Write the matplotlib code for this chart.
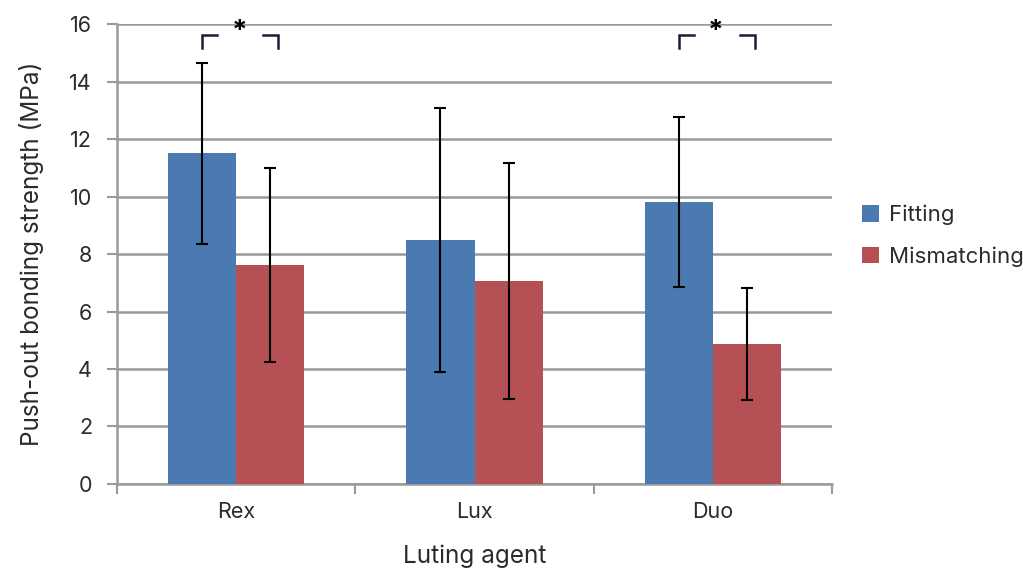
import matplotlib
matplotlib.use("Agg")
import matplotlib.pyplot as plt
import numpy as np

plt.rcParams['font.family'] = ['Inter', 'DejaVu Sans']

# data
agents = ["Rex", "Lux", "Duo"]
fitting = [11.51, 8.49, 9.81]
fitting_sd = [3.15, 4.60, 2.96]
mismatch = [7.62, 7.06, 4.87]
mismatch_sd = [3.38, 4.10, 1.96]
sig_groups = [0, 2]  # groups marked with *

blue = '#4A7AB0'
red = '#B55155'
grid_c = '#9a9a9a'
txt_c = '#2b2b2b'

fig = plt.figure(figsize=(10.23, 5.68), dpi=100)
ax = fig.add_axes([0.1144, 0.1479, 0.8133 - 0.1144, 0.9577 - 0.1479])

x = np.arange(len(agents))
w = 0.286
ekw = dict(ecolor='black', elinewidth=1.5, capsize=4.5, capthick=1.5)
ax.bar(x - w/2, fitting, w, color=blue, yerr=fitting_sd, error_kw=ekw,
       label="Fitting", zorder=3)
ax.bar(x + w/2, mismatch, w, color=red, yerr=mismatch_sd, error_kw=ekw,
       label="Mismatching", zorder=3)

ax.set_xlim(-0.5, 2.5)
ax.set_ylim(0, 16)
ax.set_yticks(range(0, 17, 2))
ax.yaxis.grid(True, color=grid_c, linewidth=1.8, zorder=0)
ax.set_axisbelow(True)

ax.set_xticks(x)
ax.set_xticklabels(agents)
ax.set_xticks([-0.5, 0.5, 1.5, 2.5], minor=True)
ax.tick_params(axis='x', which='major', length=0, pad=13, labelsize=15.5, labelcolor=txt_c)
ax.tick_params(axis='x', which='minor', length=7, width=1.5, color=grid_c, direction='out')
ax.tick_params(axis='y', length=7, width=1.5, color=grid_c, labelsize=15.5,
               labelcolor=txt_c, pad=11)

for s in ['top', 'right']:
    ax.spines[s].set_visible(False)
for s in ['left', 'bottom']:
    ax.spines[s].set_color(grid_c)
    ax.spines[s].set_linewidth(1.8)

ax.set_ylabel("Push-out bonding strength (MPa)", fontsize=17.5, color=txt_c, labelpad=18)
ax.set_xlabel("Luting agent", fontsize=17.5, color=txt_c, labelpad=16)

# significance brackets
for g in sig_groups:
    xl = g - 0.143
    xr = g + 0.176
    ytop = 15.62
    ybot = 15.17
    dx = 0.063
    ax.plot([xl, xl, xl + dx], [ybot, ytop, ytop], color='#1a1a3a', lw=1.8,
            solid_joinstyle='miter', clip_on=False, zorder=4)
    ax.plot([xr - dx, xr, xr], [ytop, ytop, ybot], color='#1a1a3a', lw=1.8,
            solid_joinstyle='miter', clip_on=False, zorder=4)
    ax.text(g + 0.013, 15.72, "*", ha='center', va='center', fontsize=20,
            fontweight='bold', color='black', zorder=5)

fig.legend(loc='center left', bbox_to_anchor=(0.843, 0.585), frameon=False,
           borderpad=0, borderaxespad=0,
           fontsize=16, handlelength=0.75, handleheight=0.75, handletextpad=0.45,
           labelspacing=0.95, labelcolor=txt_c)

fig.savefig("out.png", dpi=100)
